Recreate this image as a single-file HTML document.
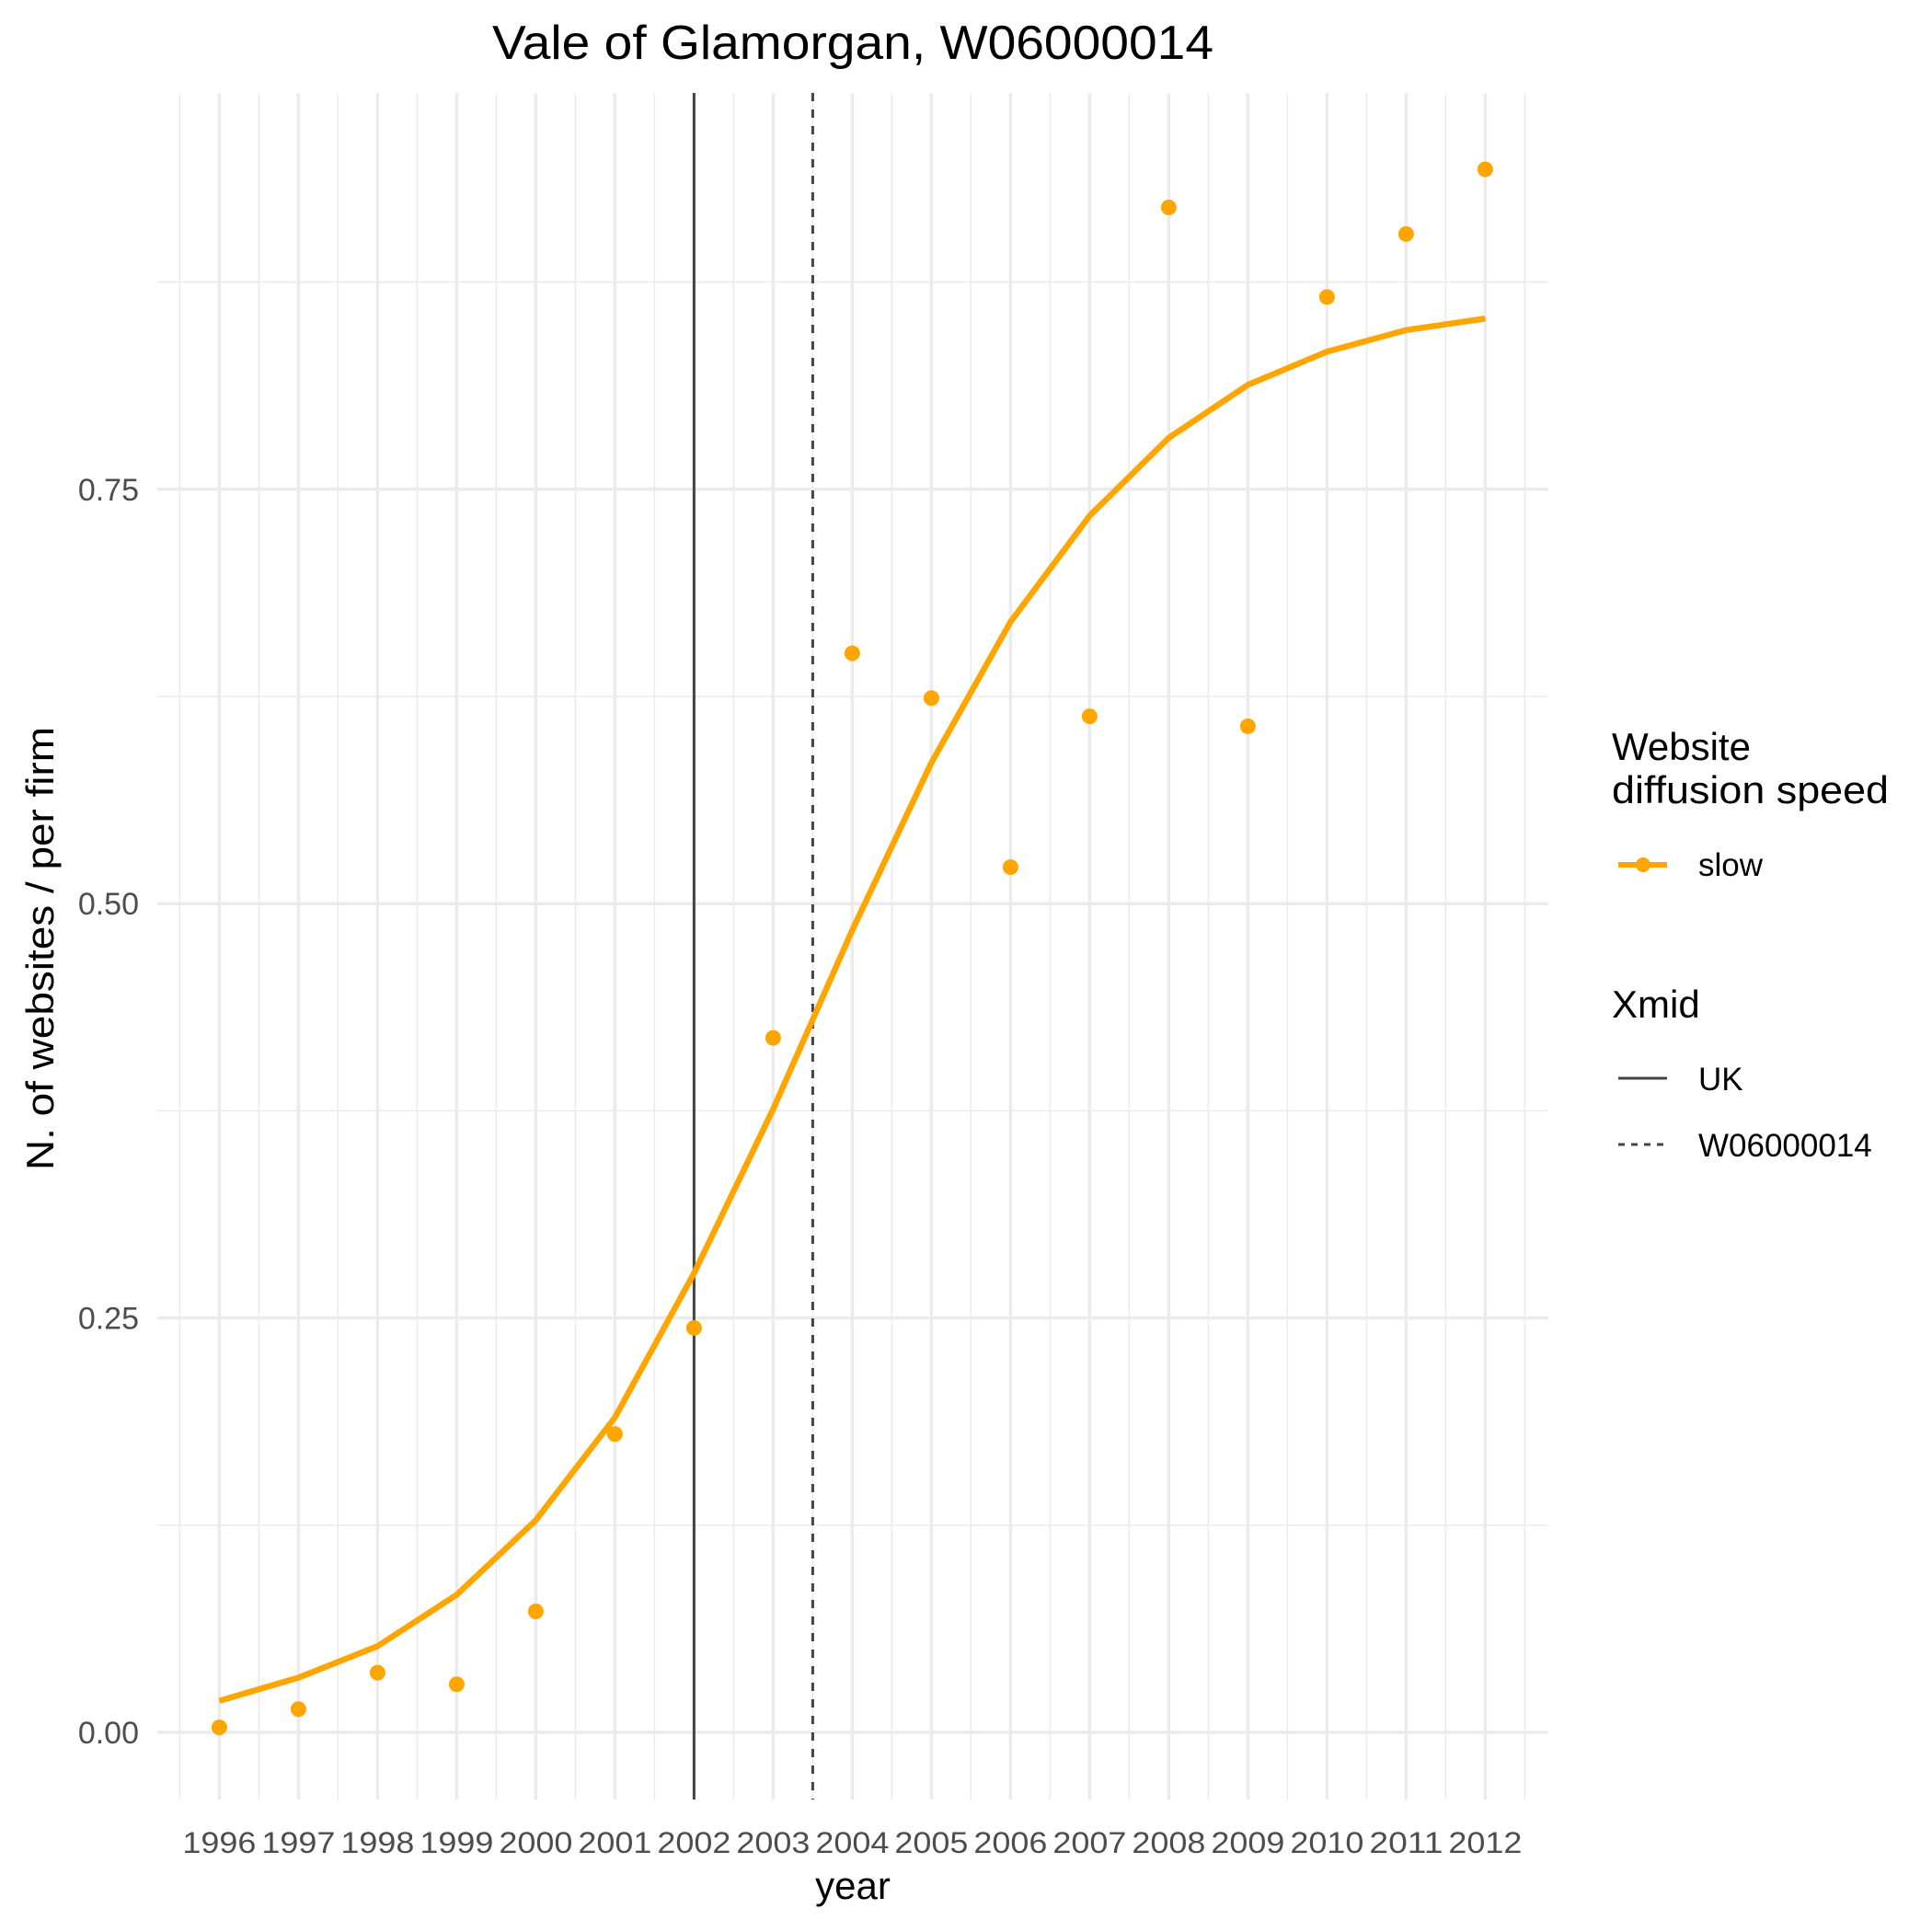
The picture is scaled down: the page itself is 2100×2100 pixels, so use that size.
<!DOCTYPE html>
<html><head><meta charset="utf-8"><style>
html,body{margin:0;padding:0;background:#fff;}
svg{display:block;font-family:"Liberation Sans",Arial,sans-serif;}
</style></head><body>
<svg id="chart" width="2100" height="2100" viewBox="0 0 2100 2100">
<g id="grid"></g>
<g id="marks"></g>
<g id="axes"></g>
<text x="927" y="64" font-size="52" text-anchor="middle" fill="#000" textLength="784" lengthAdjust="spacingAndGlyphs">Vale of Glamorgan, W06000014</text>
<text x="927" y="2064" font-size="42" text-anchor="middle" fill="#000">year</text>
<text x="0" y="0" font-size="42" text-anchor="middle" fill="#000" textLength="482" lengthAdjust="spacingAndGlyphs" transform="translate(58,1031) rotate(-90)">N. of websites / per firm</text>
<g>
<text x="1752" y="826" font-size="42">Website</text>
<text x="1752" y="873" font-size="42" textLength="301" lengthAdjust="spacingAndGlyphs">diffusion speed</text>
<line x1="1759" y1="940" x2="1812" y2="940" stroke="#FFA500" stroke-width="6"/>
<circle cx="1786" cy="940" r="8" fill="#FFA500"/>
<text x="1846" y="952" font-size="35">slow</text>
</g>
<g>
<text x="1752" y="1106" font-size="42">Xmid</text>
<line x1="1759" y1="1172" x2="1812" y2="1172" stroke="#444" stroke-width="3"/>
<text x="1846" y="1185" font-size="35">UK</text>
<line x1="1759" y1="1244" x2="1812" y2="1244" stroke="#444" stroke-width="3" stroke-dasharray="7,7"/>
<text x="1846" y="1257" font-size="35">W06000014</text>
</g>
</svg>
<script>
const years = [1996,1997,1998,1999,2000,2001,2002,2003,2004,2005,2006,2007,2008,2009,2010,2011,2012];
const pointValues = [0.003,0.014,0.036,0.029,0.073,0.180,0.244,0.419,0.651,0.624,0.522,0.613,0.920,0.607,0.866,0.904,0.943];
const fitValues = [0.019,0.033,0.052,0.083,0.128,0.190,0.277,0.376,0.484,0.585,0.670,0.734,0.781,0.813,0.833,0.846,0.853];
const yTicks = [0, 0.25, 0.5, 0.75];
const yTickLabels = ["0.00","0.25","0.50","0.75"];
const xmidUK = 2002;
const xmidRegion = 2003.5;

const NS = "http://www.w3.org/2000/svg";
const X0 = 171, X1 = 1683, Y0 = 101, Y1 = 1956;
const x = v => 238.4 + (v - 1996) * 86.0;
const y = v => 1883 - v * 1801.6;
function mk(tag, attrs, parent){ const e = document.createElementNS(NS, tag); for (const k in attrs) e.setAttribute(k, attrs[k]); parent.appendChild(e); return e; }
const grid = document.getElementById('grid'), marks = document.getElementById('marks'), axes = document.getElementById('axes');

for (let v = -0.125; v <= 1.0; v += 0.25) {
  if (y(v) < Y0 || y(v) > Y1) continue;
  const l = mk('line', {x1:X0, x2:X1, y1:y(v), y2:y(v), stroke:'#ebebeb', 'stroke-width':1.5}, grid);
  
  
}
for (let i = 0; i <= years.length; i++) {
  const xv = x(years[0] - 0.5 + i);
  const l = mk('line', {x1:xv, x2:xv, y1:Y0, y2:Y1, stroke:'#ebebeb', 'stroke-width':1.5}, grid);
  
  
}
yTicks.forEach((v, i) => {
  const l = mk('line', {x1:X0, x2:X1, y1:y(v), y2:y(v), stroke:'#ebebeb', 'stroke-width':3.5}, grid);
  
  
  const t = mk('text', {x:151, y:y(v)+12, 'font-size':34, 'text-anchor':'end', fill:'#4d4d4d'}, axes);
  t.textContent = yTickLabels[i];
  
  
});
years.forEach(yr => {
  const l = mk('line', {x1:x(yr), x2:x(yr), y1:Y0, y2:Y1, stroke:'#ebebeb', 'stroke-width':3.5}, grid);
  
  
  const t = mk('text', {x:x(yr), y:2014, 'font-size':32, 'text-anchor':'middle', fill:'#4d4d4d', textLength:80, lengthAdjust:'spacingAndGlyphs'}, axes);
  t.textContent = yr;
  
  
});
let v1 = mk('line', {x1:x(xmidUK), x2:x(xmidUK), y1:Y0, y2:Y1, stroke:'#444', 'stroke-width':3}, marks);


let v2 = mk('line', {x1:x(xmidRegion), x2:x(xmidRegion), y1:Y0, y2:Y1, stroke:'#444', 'stroke-width':3, 'stroke-dasharray':'9,9'}, marks);


const path = mk('polyline', {points: years.map((yr,i)=>x(yr)+','+y(fitValues[i])).join(' '), fill:'none', stroke:'#FFA500', 'stroke-width':6.5, 'stroke-linejoin':'round'}, marks);


years.forEach((yr, i) => {
  const c = mk('circle', {cx:x(yr), cy:y(pointValues[i]), r:8.5, fill:'#FFA500'}, marks);
  
  
});
</script>
</body></html>
